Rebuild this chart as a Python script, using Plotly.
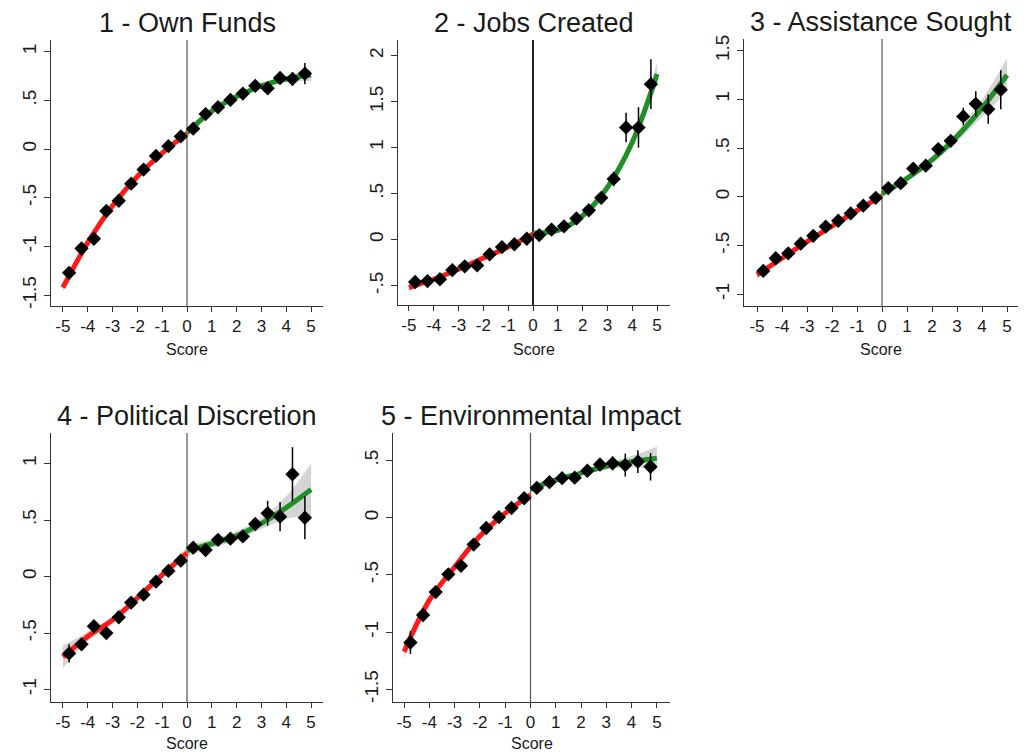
import plotly.graph_objects as go

# ---------------- data ----------------
bins_x = [-4.75, -4.25, -3.75, -3.25, -2.75, -2.25, -1.75, -1.25, -0.75, -0.25,
          0.25, 0.75, 1.25, 1.75, 2.25, 2.75, 3.25, 3.75, 4.25, 4.75]
fit_left_x = [-5, -4, -3, -2, -1, 0]
fit_right_x = [0, 1, 2, 3, 4, 5]

titles = ["1 - Own Funds", "2 - Jobs Created", "3 - Assistance Sought",
          "4 - Political Discretion", "5 - Environmental Impact"]

p1_y = [-1.27, -1.02, -0.92, -0.635, -0.53, -0.355, -0.21, -0.07, 0.03, 0.13,
        0.21, 0.36, 0.43, 0.505, 0.57, 0.65, 0.625, 0.73, 0.72, 0.775]
p1_err = [0.05, 0.04, 0.03, 0.03, 0.03, 0.02, 0.02, 0.02, 0.02, 0.02,
          0.02, 0.02, 0.02, 0.02, 0.03, 0.03, 0.04, 0.05, 0.07, 0.11]
p1_fit_l = [-1.42, -0.96, -0.58, -0.28, -0.04, 0.16]
p1_fit_r = [0.17, 0.39, 0.54, 0.65, 0.72, 0.76]
p1_ci_l = [0.04, 0.03, 0.02, 0.02, 0.02, 0.03]
p1_ci_r = [0.04, 0.02, 0.02, 0.02, 0.03, 0.06]

p2_y = [-0.46, -0.45, -0.43, -0.33, -0.29, -0.28, -0.16, -0.08, -0.05, 0.01,
        0.05, 0.11, 0.145, 0.23, 0.32, 0.455, 0.66, 1.22, 1.22, 1.69]
p2_err = [0.04, 0.03, 0.03, 0.03, 0.03, 0.03, 0.03, 0.03, 0.02, 0.02,
          0.02, 0.02, 0.03, 0.03, 0.04, 0.05, 0.08, 0.16, 0.22, 0.27]
p2_fit_l = [-0.52, -0.43, -0.32, -0.20, -0.08, 0.06]
p2_fit_r = [0.07, 0.10, 0.26, 0.57, 1.06, 1.80]
p2_ci_l = [0.04, 0.02, 0.02, 0.02, 0.02, 0.03]
p2_ci_r = [0.03, 0.02, 0.03, 0.04, 0.06, 0.12]

p3_y = [-0.76, -0.63, -0.58, -0.48, -0.40, -0.305, -0.245, -0.17, -0.09, -0.01,
        0.09, 0.14, 0.29, 0.32, 0.49, 0.575, 0.825, 0.955, 0.90, 1.10]
p3_err = [0.05, 0.03, 0.03, 0.03, 0.03, 0.03, 0.02, 0.02, 0.02, 0.02,
          0.02, 0.02, 0.03, 0.03, 0.04, 0.05, 0.09, 0.13, 0.15, 0.20]
p3_fit_l = [-0.80, -0.63, -0.46, -0.30, -0.14, 0.01]
p3_fit_r = [0.03, 0.19, 0.38, 0.62, 0.91, 1.25]
p3_ci_l = [0.04, 0.02, 0.02, 0.02, 0.02, 0.03]
p3_ci_r = [0.03, 0.03, 0.04, 0.05, 0.09, 0.17]

p4_y = [-0.68, -0.60, -0.44, -0.50, -0.36, -0.23, -0.16, -0.045, 0.05, 0.14,
        0.255, 0.235, 0.325, 0.335, 0.355, 0.465, 0.56, 0.53, 0.905, 0.52]
p4_err = [0.08, 0.05, 0.05, 0.04, 0.04, 0.03, 0.03, 0.03, 0.03, 0.03,
          0.03, 0.03, 0.03, 0.03, 0.04, 0.05, 0.11, 0.13, 0.24, 0.19]
p4_fit_l = [-0.71, -0.53, -0.385, -0.19, 0.015, 0.21]
p4_fit_r = [0.23, 0.29, 0.36, 0.47, 0.61, 0.77]
p4_ci_l = [0.10, 0.04, 0.03, 0.03, 0.03, 0.05]
p4_ci_r = [0.05, 0.04, 0.04, 0.05, 0.10, 0.23]

p5_y = [-1.09, -0.85, -0.65, -0.495, -0.42, -0.235, -0.09, 0.005, 0.085, 0.17,
        0.26, 0.31, 0.345, 0.35, 0.41, 0.465, 0.475, 0.46, 0.49, 0.445]
p5_err = [0.10, 0.06, 0.05, 0.04, 0.04, 0.03, 0.03, 0.03, 0.03, 0.03,
          0.03, 0.03, 0.03, 0.03, 0.03, 0.04, 0.06, 0.10, 0.10, 0.12]
p5_fit_l = [-1.17, -0.72, -0.43, -0.16, 0.04, 0.20]
p5_fit_r = [0.25, 0.33, 0.39, 0.45, 0.49, 0.52]
p5_ci_l = [0.06, 0.03, 0.02, 0.02, 0.02, 0.03]
p5_ci_r = [0.03, 0.02, 0.02, 0.03, 0.05, 0.10]

x_ticks = [-5, -4, -3, -2, -1, 0, 1, 2, 3, 4, 5]
x_ticktext = ["-5", "-4", "-3", "-2", "-1", "0", "1", "2", "3", "4", "5"]

y_ticks = [
    [-1.5, -1, -0.5, 0, 0.5, 1],
    [-0.5, 0, 0.5, 1, 1.5, 2],
    [-1, -0.5, 0, 0.5, 1, 1.5],
    [-1, -0.5, 0, 0.5, 1],
    [-1.5, -1, -0.5, 0, 0.5],
]
y_ticktext = [
    ["-1.5", "-1", "-.5", "0", ".5", "1"],
    ["-.5", "0", ".5", "1", "1.5", "2"],
    ["-1", "-.5", "0", ".5", "1", "1.5"],
    ["-1", "-.5", "0", ".5", "1"],
    ["-1.5", "-1", "-.5", "0", ".5"],
]

panels = [
    (p1_y, p1_err, p1_fit_l, p1_fit_r, p1_ci_l, p1_ci_r),
    (p2_y, p2_err, p2_fit_l, p2_fit_r, p2_ci_l, p2_ci_r),
    (p3_y, p3_err, p3_fit_l, p3_fit_r, p3_ci_l, p3_ci_r),
    (p4_y, p4_err, p4_fit_l, p4_fit_r, p4_ci_l, p4_ci_r),
    (p5_y, p5_err, p5_fit_l, p5_fit_r, p5_ci_l, p5_ci_r),
]

# ---------------- layout geometry (pixels) ----------------
W, H = 1032, 752
px_boxes = [  # x0, x1, ytop, ybottom
    (51, 323, 40, 306),
    (398, 670, 40, 305),
    (744, 1018, 39, 306),
    (51, 323, 433, 702),
    (393, 670, 433, 702),
]
score_y = [349, 349, 349, 743, 743]
y_ranges = [(-1.61, 1.12), (-0.71, 2.17), (-1.12, 1.62), (-1.11, 1.27), (-1.61, 0.74)]
x_ranges = [(-5.48, 5.48), (-5.44, 5.52), (-5.52, 5.44), (-5.48, 5.48), (-5.44, 5.52)]
vline_style = [("#555555", 1.2), ("#222222", 2), ("#555555", 1.2), ("#555555", 1.2), ("#555555", 1.2)]

RED = "#ff1a1a"
GREEN = "#1f8f26"
BAND = "rgba(160,160,160,0.45)"
TXT = "#1a1a1a"
FONT = "Liberation Sans, Arial, sans-serif"

fig = go.Figure()
layout = dict(
    width=W, height=H, margin=dict(l=0, r=0, t=0, b=0, autoexpand=False),
    paper_bgcolor="white", plot_bgcolor="white", showlegend=False,
    font=dict(family=FONT, color=TXT),
)
annotations = []
shapes = []

for i, (ys, errs, fl, fr, cl, cr) in enumerate(panels):
    n = i + 1
    xa = "x" if n == 1 else f"x{n}"
    ya = "y" if n == 1 else f"y{n}"
    x0, x1, yt, yb = px_boxes[i]
    xd = [x0 / W, x1 / W]
    yd = [1 - yb / H, 1 - yt / H]

    # confidence bands
    for fx, fy, ci in ((fit_left_x, fl, cl), (fit_right_x, fr, cr)):
        upper = [a + b for a, b in zip(fy, ci)]
        lower = [a - b for a, b in zip(fy, ci)]
        fig.add_trace(go.Scatter(x=fx, y=upper, mode="lines", line=dict(width=0, shape="spline"),
                                 xaxis=xa, yaxis=ya, hoverinfo="skip"))
        fig.add_trace(go.Scatter(x=fx, y=lower, mode="lines", line=dict(width=0, shape="spline"),
                                 fill="tonexty", fillcolor=BAND,
                                 xaxis=xa, yaxis=ya, hoverinfo="skip"))
    # fitted lines
    fig.add_trace(go.Scatter(x=fit_left_x, y=fl, mode="lines",
                             line=dict(color=RED, width=5, shape="spline"),
                             xaxis=xa, yaxis=ya))
    fig.add_trace(go.Scatter(x=fit_right_x, y=fr, mode="lines",
                             line=dict(color=GREEN, width=5, shape="spline"),
                             xaxis=xa, yaxis=ya))
    # binned means with error bars
    fig.add_trace(go.Scatter(x=bins_x, y=ys, mode="markers",
                             marker=dict(symbol="diamond", size=11, color="black"),
                             error_y=dict(type="data", array=errs, visible=True,
                                          color="black", thickness=1.5, width=0),
                             xaxis=xa, yaxis=ya))

    layout["xaxis" if n == 1 else f"xaxis{n}"] = dict(
        domain=xd, range=list(x_ranges[i]), anchor=ya,
        tickmode="array", tickvals=x_ticks, ticktext=x_ticktext,
        ticks="outside", ticklen=5, tickwidth=1, tickcolor="#333333",
        showline=True, linecolor="#333333", linewidth=1,
        showgrid=False, zeroline=False, tickangle=0,
        tickfont=dict(size=17, family=FONT, color=TXT),
    )
    layout["yaxis" if n == 1 else f"yaxis{n}"] = dict(
        domain=yd, range=list(y_ranges[i]), anchor=xa,
        tickmode="array", tickvals=y_ticks[i], ticktext=y_ticktext[i],
        ticks="outside", ticklen=6, tickwidth=1, tickcolor="#333333",
        showline=True, linecolor="#333333", linewidth=1,
        showgrid=False, zeroline=False, tickangle=-90,
        tickfont=dict(size=19, family=FONT, color=TXT),
    )

    # vertical line at 0
    vc, vw = vline_style[i]
    shapes.append(dict(type="line", xref=xa, yref=f"{ya} domain", x0=0, x1=0, y0=0, y1=1,
                       line=dict(color=vc, width=vw), layer="below"))

    # panel title (centered over the plot area)
    xc = (x0 + x1) / 2 / W
    ytitle = 1 - (yt - 17) / H
    annotations.append(dict(text=titles[i], x=xc, y=ytitle, xref="paper", yref="paper",
                            showarrow=False, xanchor="center", yanchor="middle",
                            font=dict(size=27, family=FONT, color=TXT)))
    annotations.append(dict(text="Score", x=xc, y=1 - score_y[i] / H, xref="paper", yref="paper",
                            showarrow=False, xanchor="center", yanchor="middle",
                            font=dict(size=16, family=FONT, color=TXT)))

layout["annotations"] = annotations
layout["shapes"] = shapes
fig.update_layout(**layout)
fig.write_html("out.html", config={"displayModeBar": False},
               post_script="document.body.style.margin='0px';document.body.style.overflow='hidden';")
